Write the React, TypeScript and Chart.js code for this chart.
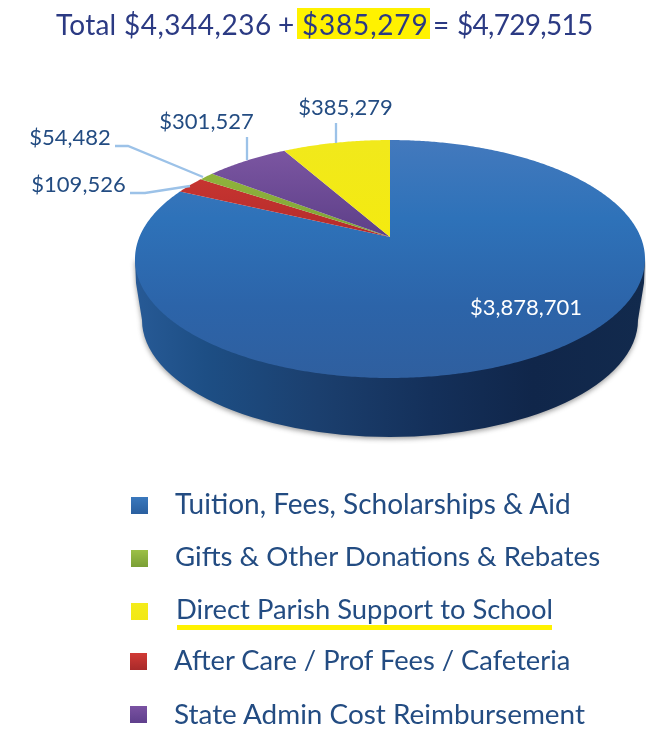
import React, { useEffect, useRef } from "react";
import { Chart, registerables } from "chart.js";

Chart.register(...registerables);

const categories = [
  "Tuition, Fees, Scholarships & Aid",
  "After Care / Prof Fees / Cafeteria",
  "Gifts & Other Donations & Rebates",
  "State Admin Cost Reimbursement",
  "Direct Parish Support to School",
];
const revenue = [3878701, 109526, 54482, 301527, 385279];
const sliceColors = ["#2e6cb3", "#c5322e", "#8db23a", "#6f4c9a", "#f1e91b"];
const legendOrder = [0, 2, 4, 1, 3];
const titleParts = ["Total", "$4,344,236", "+", "$385,279", "=", "$4,729,515"];

const fmt = (v: number) => "$" + v.toLocaleString("en-US");

// projection of the flat disc: a perspective view, so the hub sits above the ellipse centre
const HUB_X = 390;
const HUB_Y = 237;
const DISC_R = 250.6;
const DISC_SQUASH = 114.9;
const PERSP = 0.185;
const project = (a: number): [number, number] => {
  const u = Math.cos(a);
  const v = Math.sin(a);
  const d = 1 - PERSP * v;
  return [HUB_X + (DISC_R * u) / d, HUB_Y + (DISC_SQUASH * v) / d];
};

const labelPlaces = [
  { x: 526, y: 308, color: "#ffffff" },
  { x: 78.5, y: 185, color: "#234c82" },
  { x: 70, y: 138, color: "#234c82" },
  { x: 206.5, y: 122, color: "#234c82" },
  { x: 345.5, y: 108, color: "#234c82" },
];
const leaders: [number, number][][] = [
  [],
  [[130, 193], [145, 193], [190, 186]],
  [[115, 146], [128, 146], [203, 177]],
  [[247, 137], [247, 160]],
  [[336, 123], [336, 143]],
];

const sliceFill = (ctx: CanvasRenderingContext2D, i: number) => {
  const stops: Record<number, [number, string][]> = {
    0: [[0, "#4379bd"], [0.33, "#2e72b9"], [0.7, "#2c64a9"], [1, "#2f5f9f"]],
    1: [[0, "#d03a33"], [1, "#b52b2b"]],
    2: [[0, "#97ba3f"], [1, "#7fa436"]],
    3: [[0, "#7d57a3"], [1, "#5d3f88"]],
    4: [[0, "#f1e91b"], [1, "#f4ea10"]],
  };
  const g = i === 0 ? ctx.createLinearGradient(0, 140, 0, 378) : ctx.createLinearGradient(0, 145, 0, 237);
  stops[i].forEach(([o, c]) => g.addColorStop(o, c));
  return g;
};

const disc3d = {
  id: "disc3d",
  beforeDatasetsDraw(chart: any) {
    const ctx: CanvasRenderingContext2D = chart.ctx;
    const arcs = chart.getDatasetMeta(0).data;

    // rim
    ctx.save();
    const rim = ctx.createLinearGradient(135, 0, 645, 0);
    rim.addColorStop(0, "#275a96");
    rim.addColorStop(0.14, "#1d4e84");
    rim.addColorStop(0.36, "#1b3f6e");
    rim.addColorStop(0.58, "#14305a");
    rim.addColorStop(0.78, "#10264a");
    rim.addColorStop(1, "#122a4d");
    ctx.shadowColor = "rgba(40,40,40,0.45)";
    ctx.shadowBlur = 5;
    ctx.shadowOffsetY = 2;
    ctx.beginPath();
    ctx.moveTo(135, 259);
    ctx.lineTo(136, 283);
    ctx.lineTo(142, 320);
    ctx.ellipse(390, 320, 248, 117, 0, Math.PI, 0, true);
    ctx.lineTo(644, 283);
    ctx.lineTo(645, 259);
    ctx.closePath();
    ctx.fillStyle = rim;
    ctx.fill();
    ctx.restore();

    // top face, one wedge per library-computed arc
    arcs.forEach((arc: any, i: number) => {
      const { startAngle, endAngle } = arc.getProps(["startAngle", "endAngle"], true);
      const steps = Math.max(4, Math.ceil((endAngle - startAngle) / 0.01));
      ctx.beginPath();
      ctx.moveTo(HUB_X, HUB_Y);
      for (let s = 0; s <= steps; s++) {
        const [x, y] = project(startAngle + ((endAngle - startAngle) * s) / steps);
        ctx.lineTo(x, y);
      }
      ctx.closePath();
      ctx.fillStyle = sliceFill(ctx, i);
      ctx.fill();
    });
    return false;
  },
  afterDraw(chart: any) {
    const ctx: CanvasRenderingContext2D = chart.ctx;
    ctx.save();
    ctx.strokeStyle = "#9cc2e8";
    ctx.lineWidth = 2.3;
    leaders.forEach((pts) => {
      if (!pts.length) return;
      ctx.beginPath();
      pts.forEach(([x, y], k) => (k ? ctx.lineTo(x, y) : ctx.moveTo(x, y)));
      ctx.stroke();
    });
    ctx.font = "22px Lato";
    ctx.textAlign = "center";
    ctx.textBaseline = "middle";
    chart.data.datasets[0].data.forEach((v: number, i: number) => {
      ctx.fillStyle = labelPlaces[i].color;
      ctx.fillText(fmt(v), labelPlaces[i].x, labelPlaces[i].y);
    });
    ctx.restore();
  },
};

const titleSpots = [
  { x: 56, ls: 0.2 },
  { x: 124, ls: 0.5 },
  { x: 278, ls: 0 },
  { x: 302, ls: 0.8 },
  { x: 433, ls: 0 },
  { x: 457, ls: -0.7 },
];

const legendSpots = [
  { sq: 497, x: 131, tx: 175, ty: 503, fs: 28, c0: "#3a78bd", c1: "#2a5f9f" },
  { sq: 550, x: 131, tx: 175, ty: 556, fs: 27.6, c0: "#9cc047", c1: "#7a9f35" },
  { sq: 603, x: 131, tx: 176, ty: 609, fs: 27.4, c0: "#f4ec1a", c1: "#f2e814" },
  { sq: 653, x: 130, tx: 174, ty: 660, fs: 27.3, c0: "#d13a35", c1: "#a82a2a" },
  { sq: 706, x: 130, tx: 174, ty: 713, fs: 27.9, c0: "#7a52a2", c1: "#5f3f8c" },
];

export default function App() {
  const ref = useRef<HTMLCanvasElement>(null);
  useEffect(() => {
    document.body.style.margin = "0";
    const chart = new Chart(ref.current!, {
      type: "pie",
      data: {
        labels: categories,
        datasets: [{ data: revenue, backgroundColor: sliceColors, borderWidth: 0 }],
      },
      options: {
        animation: false,
        responsive: false,
        events: [],
        plugins: { legend: { display: false }, tooltip: { enabled: false } },
      },
      plugins: [disc3d],
    } as any);
    return () => chart.destroy();
  }, []);

  return (
    <div style={{ position: "absolute", left: 0, top: 0, width: 646, height: 731, overflow: "hidden", background: "#fff", fontFamily: "Lato" }}>
      <canvas ref={ref} width={646} height={731} style={{ position: "absolute", left: 0, top: 0 }} />
      <div style={{ position: "absolute", left: 297, top: 8, width: 133, height: 31, background: "#fff200" }} />
      {titleParts.map((t, i) => (
        <div key={i} style={{ position: "absolute", left: titleSpots[i].x, top: 6, fontSize: 28, lineHeight: "36px", letterSpacing: titleSpots[i].ls, color: "#2b3a83", whiteSpace: "pre" }}>
          {t}
        </div>
      ))}
      {legendOrder.map((idx, k) => (
        <React.Fragment key={idx}>
          <div style={{ position: "absolute", left: legendSpots[k].x, top: legendSpots[k].sq, width: 17, height: 17, background: `linear-gradient(${legendSpots[k].c0}, ${legendSpots[k].c1})` }} />
          <div style={{ position: "absolute", left: legendSpots[k].tx, top: legendSpots[k].ty - 18, fontSize: legendSpots[k].fs, lineHeight: "36px", color: "#234c82", whiteSpace: "pre" }}>
            {categories[idx]}
          </div>
        </React.Fragment>
      ))}
      <div style={{ position: "absolute", left: 177, top: 625, width: 375, height: 5, background: "#fff200" }} />
    </div>
  );
}
